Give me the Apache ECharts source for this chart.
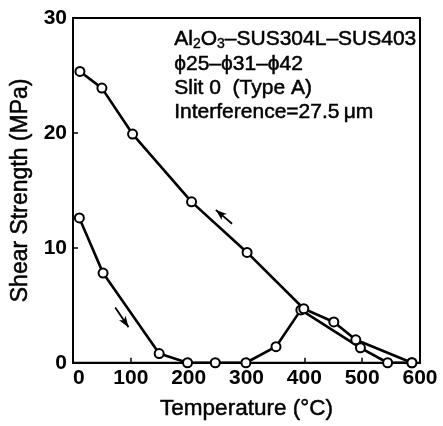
<!DOCTYPE html>
<html>
<head>
<meta charset="utf-8">
<script src="https://cdn.jsdelivr.net/npm/echarts@6/dist/echarts.min.js"></script>
<style>
html,body{margin:0;padding:0;background:#fff;}
#chart{width:443px;height:426px;}
</style>
</head>
<body>
<div id="chart"></div>
<script>
// Heating curve (arrow pointing down-right)
const heatingTemp = [11, 52, 149, 198, 246, 299, 351, 394, 497, 544, 586];
const heatingShear = [12.6, 7.8, 0.8, 0, 0, 0, 1.4, 4.6, 1.3, 0, 0];
// Cooling curve (arrow pointing up-left)
const coolingTemp = [586, 489, 451, 399, 301, 205, 103, 50, 12];
const coolingShear = [0, 2.0, 3.55, 4.7, 9.6, 14.0, 19.9, 23.9, 25.35];
// Direction arrows [tailX, tailY, headX, headY]
const coolArrow = [275, 12.1, 247, 13.3];
const heatArrow = [73, 4.8, 96, 3.1];
// Axis ticks
const xTicks = [0, 100, 200, 300, 400, 500, 600];
const yTicks = [0, 10, 20, 30];

const FONT = 'Liberation Sans, Arial, Helvetica, sans-serif';

function pairs(xs, ys) { return xs.map((x, i) => [x, ys[i]]); }

const chart = echarts.init(document.getElementById('chart'), null, {renderer: 'canvas'});

const lineStyle = {color: '#000', width: 2.6};
const itemStyle = {color: '#fff', borderColor: '#000', borderWidth: 2};

function arrowLine(a) {
  return {
    silent: true,
    symbol: ['none', 'arrow'],
    symbolSize: [6, 11],
    label: {show: false},
    lineStyle: {color: '#000', width: 1.8, type: 'solid'},
    data: [[{coord: [a[0], a[1]]}, {coord: [a[2], a[3]]}]]
  };
}

const textThick = {stroke: '#000', lineWidth: 0.5};

chart.setOption({
  animation: false,
  backgroundColor: '#fff',
  grid: {left: 73, right: 23, top: 18, bottom: 61, show: true, borderColor: '#000', borderWidth: 2, backgroundColor: 'transparent'},
  xAxis: {
    type: 'value', min: xTicks[0], max: xTicks[xTicks.length - 1], interval: 100,
    name: 'Temperature (°C)', nameLocation: 'middle', nameGap: 35,
    nameTextStyle: {fontFamily: FONT, fontSize: 22.5, color: '#000', textBorderColor: '#000', textBorderWidth: 0.5},
    axisLine: {show: true, lineStyle: {color: '#000', width: 2}},
    axisTick: {show: true, inside: true, length: 5, lineStyle: {color: '#000', width: 1.5}},
    axisLabel: {fontFamily: FONT, fontSize: 21, fontWeight: 'bold', color: '#000', margin: 5, alignMinLabel: 'left'},
    splitLine: {show: false}
  },
  yAxis: {
    type: 'value', min: yTicks[0], max: yTicks[yTicks.length - 1], interval: 10,
    name: 'Shear Strength (MPa)', nameLocation: 'middle', nameGap: 41,
    nameTextStyle: {fontFamily: FONT, fontSize: 23, color: '#000', textBorderColor: '#000', textBorderWidth: 0.5},
    axisLine: {show: true, lineStyle: {color: '#000', width: 2}},
    axisTick: {show: true, inside: true, length: 5, lineStyle: {color: '#000', width: 1.5}},
    axisLabel: {fontFamily: FONT, fontSize: 21, fontWeight: 'bold', color: '#000', margin: 6},
    splitLine: {show: false}
  },
  graphic: [
    {type: 'text', left: 174, top: 28, style: {
      text: '{n|Al}{s|2}{n|O}{s|3}{n|–SUS304L–SUS403}',
      rich: {
        n: {fontFamily: FONT, fontSize: 21, lineHeight: 24, fill: '#000', stroke: '#000', lineWidth: 0.5},
        s: {fontFamily: FONT, fontSize: 14, lineHeight: 15, verticalAlign: 'bottom', fill: '#000', stroke: '#000', lineWidth: 0.4}
      }
    }},
    {type: 'text', left: 174, top: 53, style: Object.assign({text: 'ϕ25–ϕ31–ϕ42', font: '21px ' + FONT, fill: '#000'}, textThick)},
    {type: 'text', left: 174, top: 77, style: Object.assign({text: 'Slit 0  (Type A)', font: '21px ' + FONT, fill: '#000'}, textThick)},
    {type: 'text', left: 174, top: 101, style: Object.assign({text: 'Interference=27.5\u2009μm', font: '21px ' + FONT, fill: '#000'}, textThick)}
  ],
  series: [
    {
      type: 'line', name: 'heating', data: pairs(heatingTemp, heatingShear),
      symbol: 'circle', symbolSize: 9, showAllSymbol: true, clip: false,
      lineStyle: lineStyle, itemStyle: itemStyle,
      markLine: arrowLine(heatArrow)
    },
    {
      type: 'line', name: 'cooling', data: pairs(coolingTemp, coolingShear),
      symbol: 'circle', symbolSize: 9, showAllSymbol: true, clip: false,
      lineStyle: lineStyle, itemStyle: itemStyle,
      markLine: arrowLine(coolArrow)
    }
  ]
});
</script>
</body>
</html>
